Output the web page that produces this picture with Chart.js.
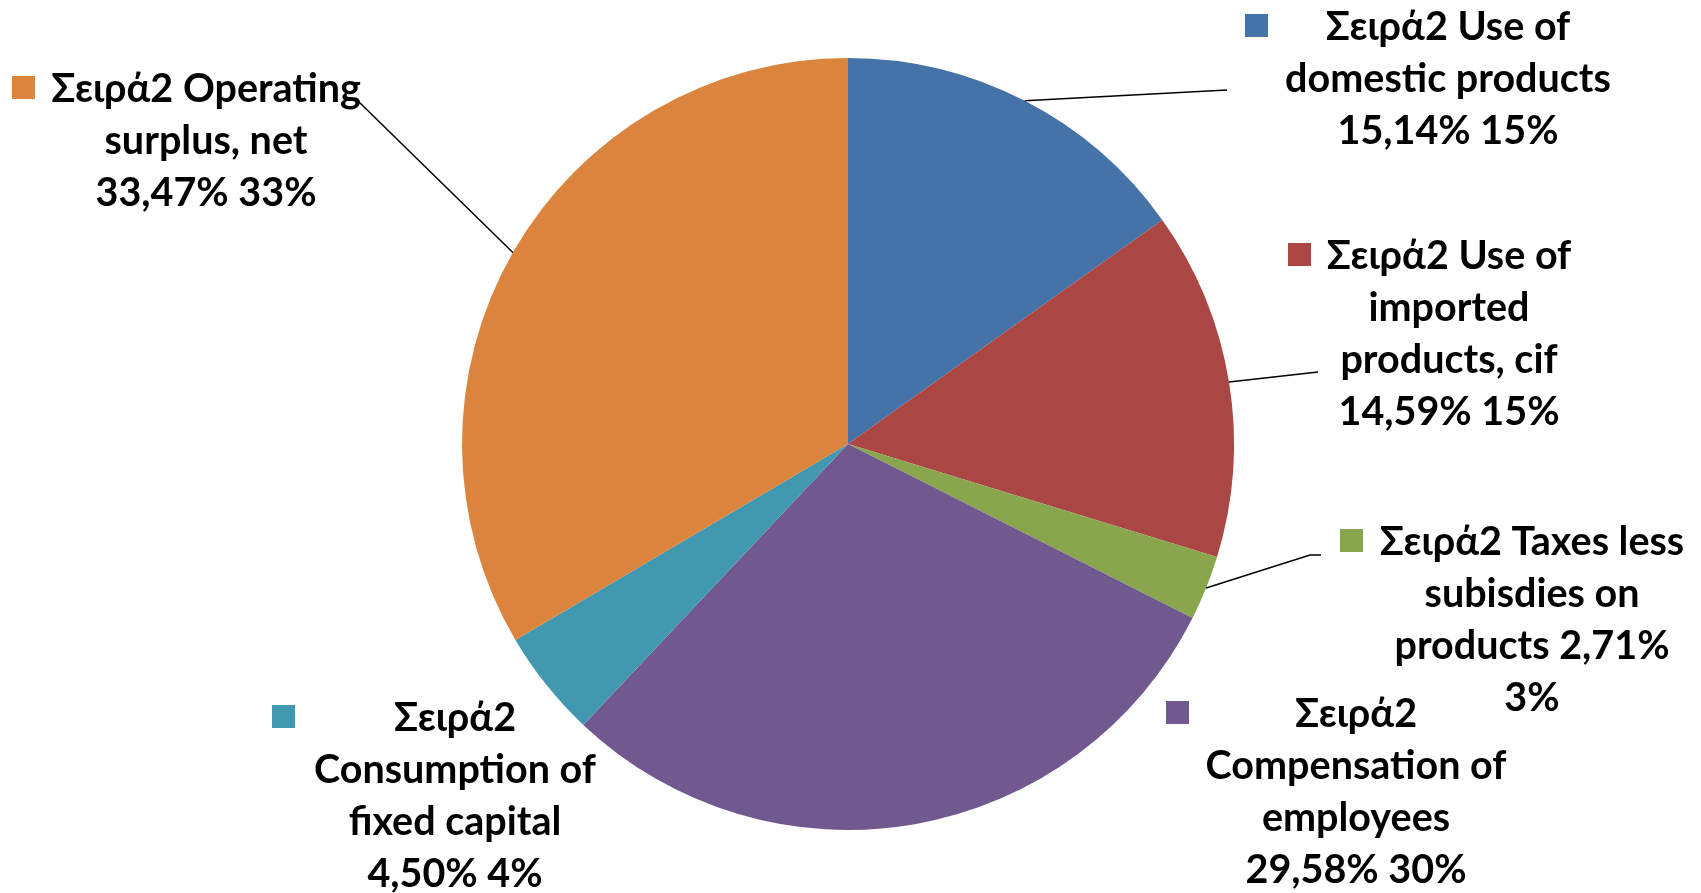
<!DOCTYPE html>
<html lang="el">
<head>
    <meta charset="UTF-8">
    <title>Σειρά2 pie</title>
    <script src="https://cdn.jsdelivr.net/npm/chart.js"></script>
    <style>
        body {
            margin: 0;
            background-color: #fff;
        }
        #wrap {
            width: 1701px;
            height: 893px;
        }
    </style>
</head>
<body>
    <div id="wrap">
        <canvas id="pieChart" width="1701" height="893"></canvas>
    </div>
    <script>
        // --- data ---
        const categories = [
            'Use of domestic products',
            'Use of imported products, cif',
            'Taxes less subisdies on products',
            'Compensation of employees',
            'Consumption of fixed capital',
            'Operating surplus, net'
        ];
        const shares = [15.14, 14.59, 2.71, 29.58, 4.50, 33.47];
        const sliceColors = ['#4572A7', '#AA4643', '#89A54E', '#71588F', '#4198AF', '#DB843D'];

        // label text, wrapped the same way as the original
        const labelLines = [
            ['Σειρά2 Use of', 'domestic products', '15,14% 15%'],
            ['Σειρά2 Use of', 'imported', 'products, cif', '14,59% 15%'],
            ['Σειρά2 Taxes less', 'subisdies on', 'products 2,71%', '3%'],
            ['Σειρά2', 'Compensation of', 'employees', '29,58% 30%'],
            ['Σειρά2', 'Consumption of', 'fixed capital', '4,50% 4%'],
            ['Σειρά2 Operating', 'surplus, net', '33,47% 33%']
        ];

        // where each label box sits (text centre x, key square top-left) and its leader line
        const labelLayout = [
            { cx: 1448, sqX: 1245, sqY: 14,  leader: [[1227, 90]] },
            { cx: 1449, sqX: 1288, sqY: 243, leader: [[1318, 372]] },
            { cx: 1532, sqX: 1340, sqY: 529, leader: [[1310, 555], [1321, 555]] },
            { cx: 1356, sqX: 1166, sqY: 701, leader: null },
            { cx: 455,  sqX: 272,  sqY: 705, leader: null },
            { cx: 206,  sqX: 12,   sqY: 76,  leader: [[358, 101]] }
        ];

        const LINE_H = 52;
        const SQ = 23;

        const pieLabels = {
            id: 'pieLabels',
            afterDatasetsDraw(chart) {
                const ctx = chart.ctx;
                const meta = chart.getDatasetMeta(0);
                ctx.save();
                meta.data.forEach((arc, i) => {
                    const lay = labelLayout[i];
                    // leader line from the middle of the arc edge
                    if (lay.leader) {
                        const mid = (arc.startAngle + arc.endAngle) / 2;
                        const px = arc.x + Math.cos(mid) * arc.outerRadius;
                        const py = arc.y + Math.sin(mid) * arc.outerRadius;
                        ctx.beginPath();
                        ctx.moveTo(px, py);
                        lay.leader.forEach(p => ctx.lineTo(p[0], p[1]));
                        ctx.strokeStyle = '#000';
                        ctx.lineWidth = 1.5;
                        ctx.stroke();
                    }
                    // legend key
                    ctx.fillStyle = sliceColors[i];
                    ctx.fillRect(lay.sqX, lay.sqY, SQ, SQ);
                    // text
                    ctx.fillStyle = '#000';
                    ctx.font = 'bold 39.5px Lato';
                    ctx.textAlign = 'center';
                    ctx.textBaseline = 'alphabetic';
                    labelLines[i].forEach((line, j) => {
                        ctx.fillText(line, lay.cx, lay.sqY + 26 + j * LINE_H);
                    });
                });
                ctx.restore();
            }
        };

        new Chart(document.getElementById('pieChart'), {
            type: 'pie',
            data: {
                labels: categories,
                datasets: [{
                    label: 'Σειρά2',
                    data: shares,
                    backgroundColor: sliceColors,
                    borderWidth: 0
                }]
            },
            options: {
                responsive: false,
                animation: false,
                layout: {
                    padding: { top: 58, bottom: 63, left: 462, right: 467 }
                },
                plugins: {
                    legend: { display: false },
                    tooltip: { enabled: false },
                    title: { display: false }
                }
            },
            plugins: [pieLabels]
        });
    </script>
</body>
</html>
